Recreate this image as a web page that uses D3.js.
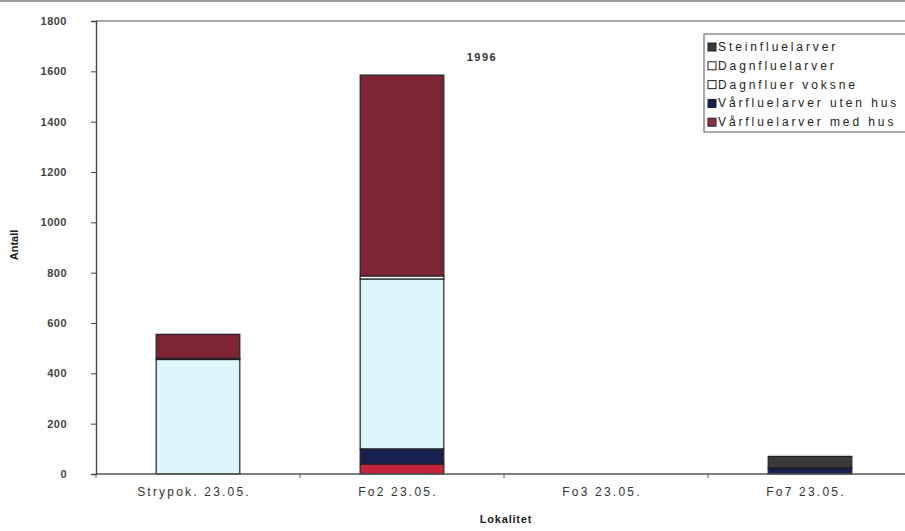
<!DOCTYPE html>
<html><head><meta charset="utf-8">
<script src="https://cdn.jsdelivr.net/npm/d3@7"></script>
<style>
body{margin:0;background:#fff;}
svg{display:block;font-family:"Liberation Sans",Arial,sans-serif;}
</style></head>
<body>
<svg id="chart" width="905" height="531"></svg>
<script>
const categories = ["Strypok. 23.05.", "Fo2 23.05.", "Fo3 23.05.", "Fo7 23.05."];
const yTicks = [0, 200, 400, 600, 800, 1000, 1200, 1400, 1600, 1800];
// stack order bottom -> top
const seriesNames = ["Vårfluelarver med hus", "Vårfluelarver uten hus", "Dagnfluer voksne", "Dagnfluelarver", "Steinfluelarver", "Andre"];
const seriesColors = ["#c3243a", "#16214f", "#dcf6fb", "#ffffff", "#3a3a3a", "#7d2535"];
const vaarMedHus   = [0, 40, 0, 0];
const vaarUtenHus  = [0, 60, 0, 25];
const dagnVoksne   = [455, 675, 0, 0];
const dagnLarver   = [5, 12, 0, 0];
const steinLarver  = [0, 0, 0, 45];
const andre        = [95, 798, 0, 0];
const legendNames = ["Steinfluelarver", "Dagnfluelarver", "Dagnfluer voksne", "Vårfluelarver uten hus", "Vårfluelarver med hus"];
const legendColors = ["#3a3a3a", "#ffffff", "#ffffff", "#16214f", "#8a3040"];
const title = "1996";

const seriesValues = [vaarMedHus, vaarUtenHus, dagnVoksne, dagnLarver, steinLarver, andre];
const rows = categories.map((c, i) => {
  const r = {cat: c};
  seriesNames.forEach((s, j) => r[s] = seriesValues[j][i]);
  return r;
});

const svg = d3.select("#chart");
const x0 = 96, x1 = 912, yTop = 21, yBot = 474;
const x = d3.scaleBand().domain(categories).range([x0, x1]).paddingInner(0.59).paddingOuter(0.295);
const y = d3.scaleLinear().domain([0, 1800]).range([yBot, yTop]);

// chart border (top)
svg.append("rect").attr("x", 0).attr("y", 0).attr("width", 905).attr("height", 2).attr("fill", "#9a9a9a");

// plot area border
svg.append("line").attr("x1", x0).attr("x2", 905).attr("y1", yTop).attr("y2", yTop).attr("stroke", "#555").attr("stroke-width", 1.2);

const stack = d3.stack().keys(seriesNames)(rows);
svg.append("g").selectAll("g").data(stack).join("g")
  .attr("fill", (d, i) => seriesColors[i])
  .selectAll("rect").data(d => d.filter(p => p[1] - p[0] > 0)).join("rect")
  .attr("x", d => x(d.data.cat))
  .attr("width", x.bandwidth())
  .attr("y", d => y(d[1]))
  .attr("height", d => y(d[0]) - y(d[1]))
  .attr("stroke", "#222").attr("stroke-width", 1.2);

// y axis
const ya = svg.append("g").attr("transform", `translate(${x0},0)`)
  .call(d3.axisLeft(y).tickValues(yTicks).tickSize(5).tickPadding(24).tickFormat(d3.format("d")));
ya.select(".domain").attr("stroke", "#444").attr("stroke-width", 1.4);
ya.selectAll(".tick line").attr("stroke", "#444");
ya.selectAll("text").attr("font-size", 11).attr("font-weight", "bold").attr("fill", "#444").attr("letter-spacing", "0.5px");

// x axis
const xa = svg.append("g").attr("transform", `translate(0,${yBot})`)
  .call(d3.axisBottom(x).tickSize(0).tickPadding(13));
xa.select(".domain").remove();
svg.append("line").attr("x1", x0).attr("x2", 905).attr("y1", yBot).attr("y2", yBot).attr("stroke", "#555").attr("stroke-width", 1.4);
const step = x.step();
svg.append("g").selectAll("line").data(d3.range(categories.length + 1)).join("line")
  .attr("x1", i => x0 + i * step).attr("x2", i => x0 + i * step)
  .attr("y1", yBot).attr("y2", yBot + 4).attr("stroke", "#555");
xa.selectAll("text").attr("font-size", 12).attr("fill", "#333").attr("letter-spacing", "2.2px").attr("dx", -4);

// axis titles
svg.append("text").attr("transform", "translate(18,245) rotate(-90)").attr("text-anchor", "middle")
  .attr("font-size", 11).attr("font-weight", "bold").attr("fill", "#222").text("Antall");
svg.append("text").attr("x", 506).attr("y", 523).attr("text-anchor", "middle")
  .attr("font-size", 11).attr("font-weight", "bold").attr("fill", "#222").attr("letter-spacing", "0.8px").text("Lokalitet");

// title
svg.append("text").attr("x", 482).attr("y", 61).attr("text-anchor", "middle")
  .attr("font-size", 11).attr("font-weight", "bold").attr("fill", "#333").attr("letter-spacing", "1.5px").text(title);

// legend
const lg = svg.append("g").attr("transform", "translate(704,34)");
lg.append("rect").attr("x", 0).attr("y", 0).attr("width", 210).attr("height", 98).attr("fill", "#fff").attr("stroke", "#555").attr("stroke-width", 1);
legendNames.forEach((n, i) => {
  const gy = 13 + i * 18.8;
  lg.append("rect").attr("x", 4).attr("y", gy - 4).attr("width", 8).attr("height", 8)
    .attr("fill", legendColors[i]).attr("stroke", "#222").attr("stroke-width", 1);
  lg.append("text").attr("x", 14).attr("y", gy + 4).attr("font-size", 12).attr("fill", "#222")
    .attr("letter-spacing", "2.9px").text(n);
});
</script>
</body></html>
